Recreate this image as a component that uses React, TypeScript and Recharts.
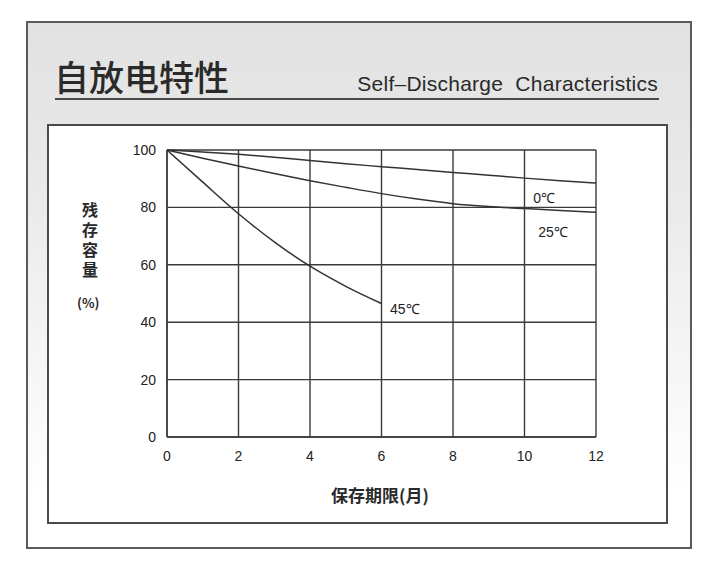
import React from 'react'
import { LineChart, Line, XAxis, YAxis, CartesianGrid, ReferenceDot } from 'recharts'

// storage months
const months = [0, 1, 2, 3, 4, 5, 6, 7, 8, 9, 10, 11, 12]
// remaining capacity (%) per temperature
const temp0 = [100, 99.3, 98.5, 97.5, 96.3, 95.2, 94.2, 93.2, 92.2, 91.2, 90.2, 89.3, 88.5]
const temp25 = [100, 97.1, 94.4, 91.8, 89.3, 87, 84.8, 82.9, 81.3, 80.3, 79.6, 78.9, 78.3]
const temp45 = [100, 88.8, 77.8, 68, 59.5, 52.5, 46.5]

const xTicks = [0, 2, 4, 6, 8, 10, 12]
const yTicks = [0, 20, 40, 60, 80, 100]

const lineLabels = [
  { name: '0℃', x: 10.55, y: 83.3 },
  { name: '25℃', x: 10.8, y: 71.4 },
  { name: '45℃', x: 6.65, y: 44.6 },
]

const data = months.map((m, i) => ({
  month: m,
  t0: temp0[i],
  t25: temp25[i],
  t45: i < temp45.length ? temp45[i] : null,
}))

const ink = '#3a3a3a'
const tickStyle = { fill: '#222', fontSize: 14, fontFamily: '"Liberation Sans", Arial, sans-serif' }

export default function App() {
  return (
    <div style={{ position: 'absolute', left: 0, top: 0, width: 710, height: 573, background: '#fff', overflow: 'hidden' }}>
      {/* outer frame with grey fade */}
      <div
        style={{
          position: 'absolute', left: 26, top: 21, width: 662, height: 524,
          border: '2px solid #5a5a5a',
          background: 'linear-gradient(to bottom, #e2e2e2 0%, #e9e9e9 30%, #f4f4f4 60%, #ffffff 90%)',
        }}
      />
      <div style={{ position: 'absolute', left: 54, top: 55, fontFamily: '"Noto Sans CJK SC", sans-serif', fontSize: 35, color: '#2a2a2a', fontWeight: 500, lineHeight: '42px' }}>
        自放电特性
      </div>
      <div style={{ position: 'absolute', right: 710 - 658, top: 72, fontFamily: '"Liberation Sans", sans-serif', fontSize: 21, color: '#2a2a2a', letterSpacing: 0.25, lineHeight: '24px', whiteSpace: 'nowrap' }}>
        Self–Discharge&nbsp; Characteristics
      </div>
      <div style={{ position: 'absolute', left: 55, top: 98, width: 604, height: 2, background: '#4a4a4a' }} />
      {/* inner white panel */}
      <div style={{ position: 'absolute', left: 47, top: 124, width: 617, height: 396, border: '2px solid #4a4a4a', background: '#fff' }} />

      {/* y-axis title */}
      <div
        style={{
          position: 'absolute', left: 80, top: 202, width: 20, height: 84,
          writingMode: 'vertical-rl', textOrientation: 'upright',
          fontFamily: '"Noto Sans CJK SC", sans-serif', fontSize: 16, fontWeight: 700, color: '#2a2a2a',
          letterSpacing: 4, lineHeight: '20px',
        }}
      >
        残存容量
      </div>
      <div style={{ position: 'absolute', left: 77, top: 293, fontFamily: '"Noto Sans CJK SC", sans-serif', fontSize: 13, fontWeight: 700, color: '#2a2a2a' }}>
        (%)
      </div>
      {/* x-axis title */}
      <div style={{ position: 'absolute', left: 290, top: 482, width: 180, textAlign: 'center', fontFamily: '"Noto Sans CJK SC", sans-serif', fontSize: 17, fontWeight: 700, color: '#2a2a2a' }}>
        保存期限(月)
      </div>

      <div style={{ position: 'absolute', left: 100, top: 130 }}>
        <LineChart width={540} height={350} data={data} margin={{ top: 20, right: 44, left: 27, bottom: 18 }}>
          <CartesianGrid stroke={ink} strokeWidth={1.4} horizontalValues={yTicks} verticalValues={xTicks} />
          <XAxis
            dataKey="month"
            type="number"
            domain={[0, 12]}
            ticks={xTicks}
            height={25}
            tickLine={false}
            tickMargin={8}
            axisLine={{ stroke: ink, strokeWidth: 1.4 }}
            tick={tickStyle}
          />
          <YAxis
            type="number"
            domain={[0, 100]}
            ticks={yTicks}
            width={40}
            tickLine={false}
            tickMargin={5}
            axisLine={{ stroke: ink, strokeWidth: 1.4 }}
            tick={tickStyle}
          />
          <Line dataKey="t0" type="monotone" stroke="#333" strokeWidth={1.5} dot={false} isAnimationActive={false} />
          <Line dataKey="t25" type="monotone" stroke="#333" strokeWidth={1.5} dot={false} isAnimationActive={false} />
          <Line dataKey="t45" type="monotone" stroke="#333" strokeWidth={1.5} dot={false} isAnimationActive={false} connectNulls={false} />
          {lineLabels.map((l) => (
            <ReferenceDot
              key={l.name}
              x={l.x}
              y={l.y}
              r={0}
              fill="none"
              stroke="none"
              label={{ value: l.name, position: 'center', fill: '#222', fontSize: 14, fontFamily: '"Liberation Sans", Arial, sans-serif' }}
            />
          ))}
        </LineChart>
      </div>
    </div>
  )
}
